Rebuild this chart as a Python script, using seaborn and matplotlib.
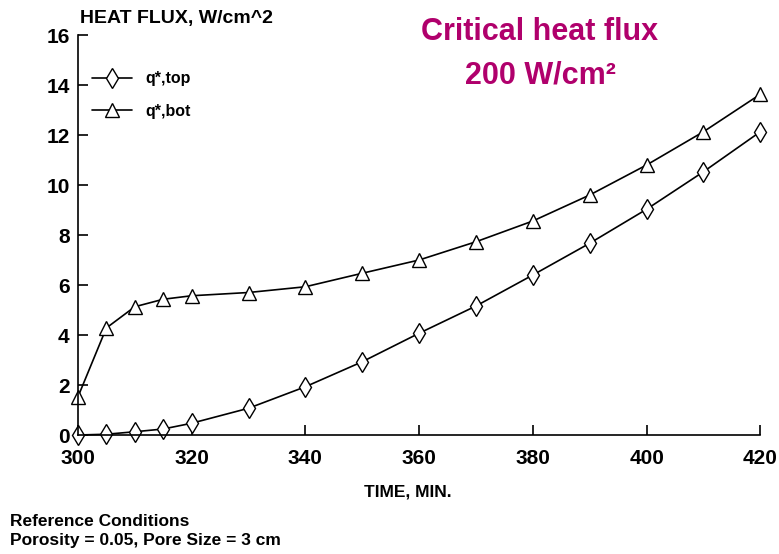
import matplotlib
matplotlib.use("Agg")
import matplotlib.pyplot as plt
import seaborn as sns
import pandas as pd

time = [300, 305, 310, 315, 320, 330, 340, 350, 360, 370, 380, 390, 400, 410, 420]
q_top = [0.0, 0.03, 0.13, 0.24, 0.47, 1.07, 1.93, 2.93, 4.07, 5.16, 6.4, 7.67, 9.03, 10.53, 12.13]
q_bot = [1.52, 4.28, 5.13, 5.43, 5.57, 5.7, 5.93, 6.47, 7.0, 7.73, 8.56, 9.6, 10.8, 12.13, 13.63]
series_names = ["q*,top", "q*,bot"]
x_ticks = [300, 320, 340, 360, 380, 400, 420]
y_ticks = [0, 2, 4, 6, 8, 10, 12, 14, 16]

sns.set_theme(style="ticks")
plt.rcParams['font.family'] = ['Liberation Sans', 'DejaVu Sans']
plt.rcParams['text.color'] = 'black'
plt.rcParams['axes.labelcolor'] = 'black'
plt.rcParams['xtick.color'] = 'black'
plt.rcParams['ytick.color'] = 'black'

df = pd.DataFrame({
    "time": time * 2,
    "flux": q_top + q_bot,
    "series": [series_names[0]] * len(time) + [series_names[1]] * len(time),
})

fig = plt.figure(figsize=(7.79, 5.54), dpi=100)
ax = fig.add_axes([0.1, 0.2148, 0.876, 0.722])

sns.lineplot(data=df, x="time", y="flux", hue="series", style="series",
             palette=["black", "black"], markers=["d", "^"], dashes=False,
             markersize=10, markerfacecolor="white", markeredgecolor="black",
             markeredgewidth=1.0, linewidth=1.2, ax=ax, clip_on=False, legend=True)

ax.set_xlim(300, 420)
ax.set_ylim(0, 16)
ax.set_xticks(x_ticks)
ax.set_yticks(y_ticks)
ax.tick_params(axis="both", direction="in", length=7, width=1.2, colors="black",
               labelsize=15)
ax.tick_params(axis="x", pad=10)
ax.tick_params(axis="y", pad=6)
for lab in ax.get_xticklabels() + ax.get_yticklabels():
    lab.set_fontweight("bold")
sns.despine(ax=ax)
for s in ["left", "bottom"]:
    ax.spines[s].set_linewidth(1.2)
    ax.spines[s].set_color("black")
ax.set_xlabel("")
ax.set_ylabel("")

leg = ax.legend(loc="upper left", bbox_to_anchor=(0.0, 0.945), frameon=False,
                handlelength=2.5, labelspacing=1.1,
                prop={"weight": "bold", "size": 11.5})
for h in leg.legend_handles:
    h.set_markerfacecolor("white")
    h.set_markeredgecolor("black")
for t in leg.get_texts():
    t.set_color("black")

fig.text(80 / 779, 1 - 18 / 554, "HEAT FLUX, W/cm^2", fontsize=14,
         fontweight="bold", va="center", ha="left")
fig.text(408 / 779, 1 - 492 / 554, "TIME, MIN.", fontsize=12.5,
         fontweight="bold", va="center", ha="center")
fig.text(10 / 779, 1 - 521 / 554, "Reference Conditions", fontsize=12.5,
         fontweight="bold", va="center", ha="left")
fig.text(10 / 779, 1 - 540 / 554, "Porosity = 0.05, Pore Size = 3 cm", fontsize=12.5,
         fontweight="bold", va="center", ha="left")

fig.text(540 / 779, 1 - 32 / 554, "Critical heat flux", fontsize=22,
         fontweight="bold", color="#b0006c", va="center", ha="center",
         family=["Liberation Sans Narrow", "Liberation Sans"])
fig.text(540 / 779, 1 - 75 / 554, "200 W/cm\u00b2", fontsize=22,
         fontweight="bold", color="#b0006c", va="center", ha="center",
         family=["Liberation Sans Narrow", "Liberation Sans"])

fig.savefig("out.png", dpi=100)
